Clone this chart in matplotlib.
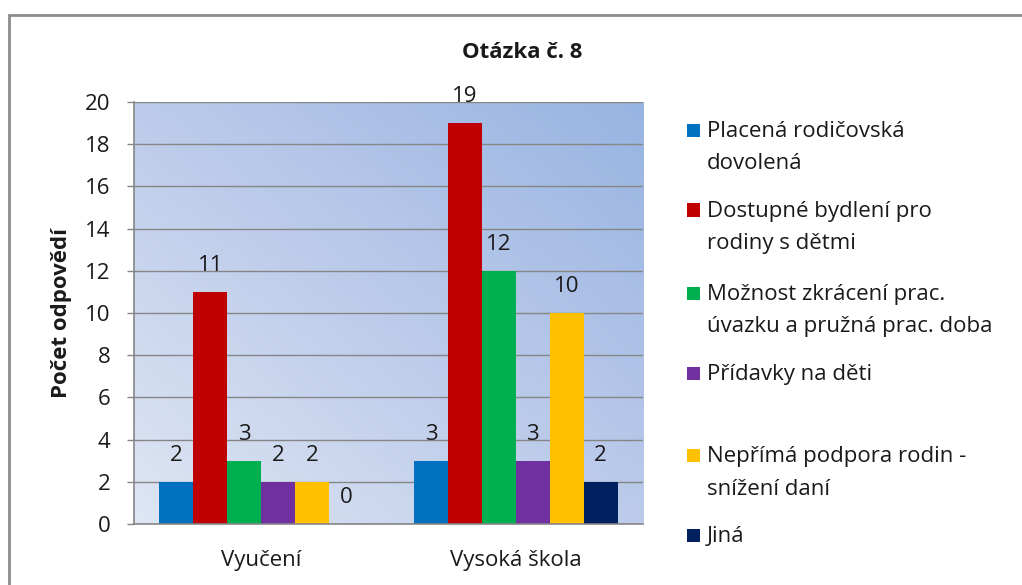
import numpy as np
import matplotlib
matplotlib.use("Agg")
import matplotlib.pyplot as plt
from matplotlib.patches import Rectangle
from matplotlib.colors import LinearSegmentedColormap

plt.rcParams['font.family'] = ['Open Sans', 'DejaVu Sans']

categories = ["Vyučení", "Vysoká škola"]
series_names = [
    "Placená rodičovská\ndovolená",
    "Dostupné bydlení pro\nrodiny s dětmi",
    "Možnost zkrácení prac.\núvazku a pružná prac. doba",
    "Přídavky na děti",
    "Nepřímá podpora rodin -\nsnížení daní",
    "Jiná",
]
values = [
    [2, 3],
    [11, 19],
    [3, 12],
    [2, 3],
    [2, 10],
    [0, 2],
]
colors = ["#0070C0", "#C00000", "#00B050", "#7030A0", "#FFC000", "#002060"]
yticks = [0, 2, 4, 6, 8, 10, 12, 14, 16, 18, 20]

FS = 16
TXT = "#1a1a1a"
W, H = 1022, 585
fig = plt.figure(figsize=(W / 100, H / 100), dpi=100)
fig.patch.set_facecolor("white")

# outer chart border
border = Rectangle((9 / W, -0.1), 1.2, 1 - 15 / H + 0.1, transform=fig.transFigure,
                   fill=False, edgecolor="#8c8c8c", linewidth=2, clip_on=False)
fig.patches.append(border)

ax = fig.add_axes([134 / W, 1 - 524 / H, (643 - 134) / W, (524 - 102) / H])

# gradient background
gx, gy = np.meshgrid(np.linspace(0, 1, 200), np.linspace(0, 1, 200))
g = (gx + gy) / 2
cmap = LinearSegmentedColormap.from_list("bg", ["#dfe6f4", "#bccbea", "#98b4e2"])
ax.imshow(g, extent=[-0.5, 1.5, 0, 20], origin="lower", cmap=cmap, aspect="auto",
          zorder=0, interpolation="bilinear")

n = len(series_names)
bw = 0.8 / n
x = np.arange(len(categories))
for i, (name, vals, c) in enumerate(zip(series_names, values, colors)):
    pos = x - 0.4 + bw * (i + 0.5)
    ax.bar(pos, vals, width=bw, color=c, zorder=3)
    for xp, v in zip(pos, vals):
        ax.annotate(str(v), (xp, v), xytext=(0, 19), textcoords="offset points",
                    ha="center", va="center", fontsize=FS, color=TXT, zorder=4)

ax.set_xlim(-0.5, 1.5)
ax.set_ylim(0, 20)
ax.set_yticks(yticks)
ax.set_yticklabels([str(t) for t in yticks], fontsize=FS, color=TXT)
ax.set_xticks(x)
ax.set_xticklabels(categories, fontsize=FS, color=TXT)
ax.tick_params(axis="x", length=0, pad=19)
ax.tick_params(axis="y", length=5, color="#868686", width=1, pad=12)
ax.grid(axis="y", color="#868686", linewidth=1, zorder=1)
for s in ["top", "right"]:
    ax.spines[s].set_visible(False)
for s in ["left", "bottom"]:
    ax.spines[s].set_color("#868686")
    ax.spines[s].set_linewidth(1.2)
    ax.spines[s].set_zorder(5)
for gl in ax.get_ygridlines():
    gl.set_zorder(1)

ax.set_ylabel("Počet odpovědí", fontsize=FS, fontweight="bold", color=TXT)
ax.yaxis.set_label_coords((72 - 134) / 509, 0.5)
fig.text(522 / W, 1 - 52 / H, "Otázka č. 8", ha="center", va="center",
         fontsize=FS, fontweight="bold", color=TXT)

# legend
leg_y = [[130, 162], [210, 242], [293, 325], [373], [455, 488], [535]]
for name, c, ys in zip(series_names, colors, leg_y):
    fig.patches.append(Rectangle((687 / W, 1 - (ys[0] + 6.5) / H), 13 / W, 13 / H,
                                 transform=fig.transFigure, facecolor=c,
                                 edgecolor="none"))
    for line, yy in zip(name.split("\n"), ys):
        fig.text(707 / W, 1 - (yy + 7) / H, line, ha="left", va="baseline",
                 fontsize=FS, color=TXT)

fig.savefig("out.png", dpi=100)
